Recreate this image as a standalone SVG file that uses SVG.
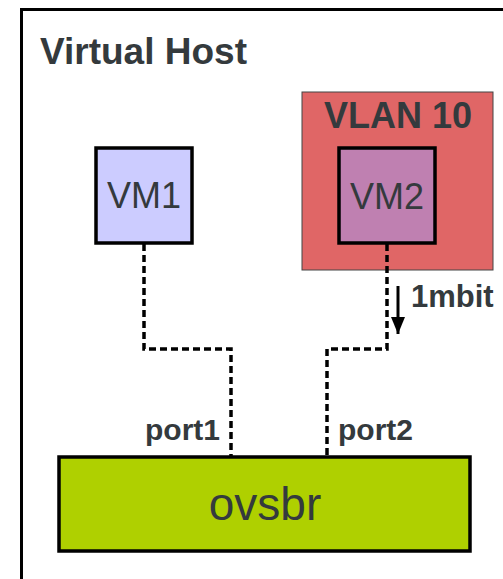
<svg xmlns="http://www.w3.org/2000/svg" width="503" height="579" viewBox="0 0 503 579">
  <style>
    .lbl { font-family: "Liberation Sans", Arial, sans-serif; fill: #343a3d; }
    .bold { font-weight: bold; }
    .box { stroke: #000; stroke-width: 3.5; }
    .link { fill: none; stroke: #000; stroke-width: 3.5; stroke-dasharray: 7 4; }
  </style>
  <defs>
    <marker id="head" markerWidth="18" markerHeight="14" refX="17" refY="7" orient="auto" markerUnits="userSpaceOnUse">
      <path d="M0,0 L17,7 L0,14 Z" fill="#000"/>
    </marker>
  </defs>
  <rect width="503" height="579" fill="#fff"/>

  <!-- host frame -->
  <g id="host">
    <rect x="21.5" y="9.5" width="500" height="600" fill="#fff" stroke="#000" stroke-width="3"/>
    <text class="lbl bold" x="40" y="64" font-size="37">Virtual Host</text>
  </g>

  <!-- VLAN area -->
  <g id="vlan10">
    <rect x="302" y="92" width="191" height="178" fill="#e06666" stroke="#444" stroke-width="1"/>
    <text class="lbl bold" x="398" y="128" font-size="36" text-anchor="middle">VLAN 10</text>
  </g>

  <!-- connectors -->
  <g id="connectors">
    <path class="link" d="M144,244 V349 H231 V456"/>
    <path class="link" d="M387,244 V349 H327 V456"/>
    <line x1="398" y1="286" x2="398" y2="334" stroke="#000" stroke-width="3" marker-end="url(#head)"/>
    <text class="lbl bold" x="411" y="307" font-size="31">1mbit</text>
    <text class="lbl bold" x="145" y="440" font-size="30">port1</text>
    <text class="lbl bold" x="338" y="440" font-size="30">port2</text>
  </g>

  <g id="vm1">
    <rect class="box" x="96" y="148" width="96" height="95" fill="#ccccff"/>
    <text class="lbl" x="144" y="208" font-size="36" text-anchor="middle">VM1</text>
  </g>

  <g id="vm2">
    <rect class="box" x="339" y="148" width="96" height="95" fill="#bf80b1"/>
    <text class="lbl" x="387" y="209" font-size="36" text-anchor="middle">VM2</text>
  </g>

  <g id="ovsbr">
    <rect class="box" x="59" y="457" width="411" height="94" fill="#afd000"/>
    <text class="lbl" x="265" y="520" font-size="46" text-anchor="middle">ovsbr</text>
  </g>
</svg>
